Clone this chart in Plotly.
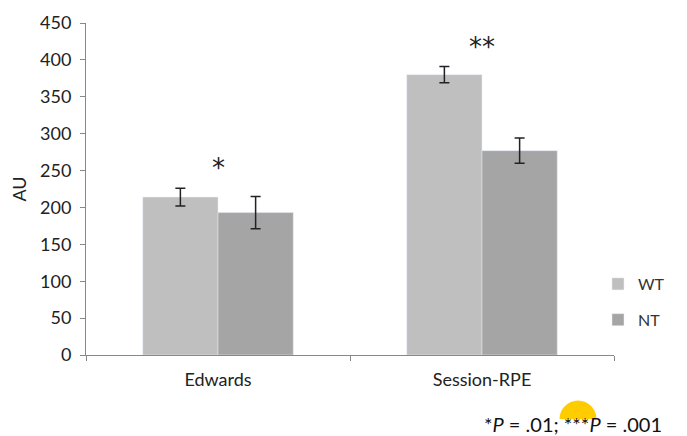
import plotly.graph_objects as go

categories = ["Edwards", "Session-RPE"]
wt_values = [214, 380]
wt_errors = [12, 11]
nt_values = [193, 277]
nt_errors = [22, 17]
stars = ["*", "**"]
y_ticks = [0, 50, 100, 150, 200, 250, 300, 350, 400, 450]
footnote = "*<i>P</i> = .01; ***<i>P</i> = .001"

FONT = "Lato"
W, H = 687, 436
L, R, T, B = 86, 73, 23, 81
PW, PH = W - L - R, H - T - B

fig = go.Figure()
fig.add_trace(go.Bar(
    x=categories, y=wt_values, name="WT", marker_color="#bfbfbf",
    error_y=dict(type="data", array=wt_errors, color="#222222", thickness=1.5, width=5),
    legendgroup="wt",
))
fig.add_trace(go.Bar(
    x=categories, y=nt_values, name="NT", marker_color="#a5a5a5",
    error_y=dict(type="data", array=nt_errors, color="#222222", thickness=1.5, width=5),
    legendgroup="nt",
))

# significance stars above each group
for cat, s, v, e in zip(categories, stars, wt_values, wt_errors):
    fig.add_annotation(x=cat, y=v + e, text=s, showarrow=False, yshift=20,
                       font=dict(family="DejaVu Sans", size=26, color="#222222"),
                       xref="x", yref="y")

# yellow half disk decoration
r = 18.5
k = 0.5523 * r
path = (f"M {-r},0 C {-r},{k} {-k},{r} 0,{r} C {k},{r} {r},{k} {r},0 Z")
fig.add_shape(type="path", path=path, xref="paper", yref="paper",
              xsizemode="pixel", ysizemode="pixel",
              xanchor=(578 - L) / PW, yanchor=(355 - 419) / PH,
              fillcolor="#ffcc00", line=dict(width=0))

fig.add_annotation(text=footnote, xref="paper", yref="paper",
                   x=(573 - L) / PW, y=(355 - 424) / PH, xanchor="center", yanchor="middle",
                   showarrow=False, font=dict(family=FONT, size=20, color="#111111"))

fig.update_layout(
    width=W, height=H,
    margin=dict(l=L, r=R, t=T, b=B, autoexpand=False),
    paper_bgcolor="white", plot_bgcolor="white",
    barmode="group", bargap=0.43, bargroupgap=0,
    font=dict(family=FONT, size=18, color="#222222"),
    legend=dict(x=(598 - L) / PW, y=(355 - 267) / PH, xanchor="left", yanchor="top",
                traceorder="grouped", tracegroupgap=12, itemwidth=30,
                font=dict(family=FONT, size=16, color="#333333")),
    showlegend=True,
)
fig.update_xaxes(showline=True, linecolor="#888888", linewidth=1, automargin=False,
                 ticks="outside", ticklen=5, tickcolor="#888888", ticklabelstandoff=8,
                 tickson="boundaries", tickfont=dict(family=FONT, size=18, color="#222222"),
                 showgrid=False)
fig.update_yaxes(range=[0, 450], tickvals=y_ticks, showline=True, linecolor="#888888",
                 linewidth=1, ticks="outside", ticklen=5, tickcolor="#888888",
                 showgrid=False, zeroline=False, automargin=False, ticklabelstandoff=5,
                 title=dict(text="AU", font=dict(family=FONT, size=18, color="#222222"), standoff=8),
                 tickfont=dict(family=FONT, size=18, color="#222222"))

fig.write_html("out.html", config={"displayModeBar": False},
               post_script="document.body.style.margin='0';document.body.style.overflow='hidden';")
